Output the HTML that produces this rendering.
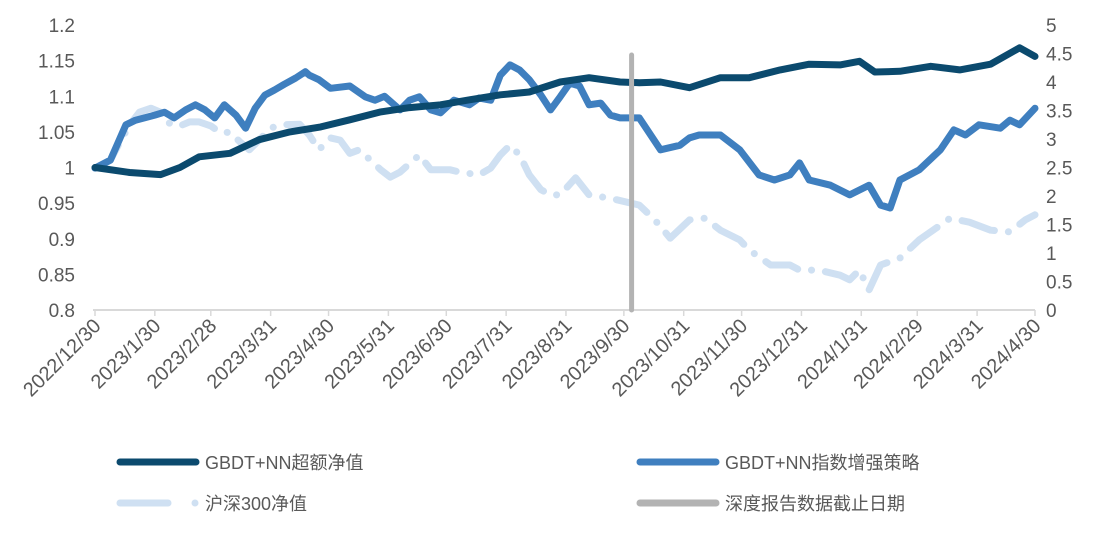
<!DOCTYPE html>
<html><head><meta charset="utf-8"><style>
body{margin:0;background:#fff;width:1104px;height:528px;overflow:hidden}
svg text{font-family:"Liberation Sans","Noto Sans CJK SC",sans-serif;fill:#595959}
</style></head><body>
<svg id="chart" width="1104" height="528" xmlns="http://www.w3.org/2000/svg">
<g id="axes"></g>
<g id="series"></g>
<g id="legend">
<line x1="120" y1="462" x2="196" y2="462" stroke="#0b4a6e" stroke-width="7" stroke-linecap="round"/>
<text x="205" y="469" font-size="18">GBDT+NN超额净值</text>
<line x1="640" y1="462" x2="716" y2="462" stroke="#3f7fbf" stroke-width="7" stroke-linecap="round"/>
<text x="725" y="469" font-size="18">GBDT+NN指数增强策略</text>
<line x1="120" y1="503" x2="168" y2="503" stroke="#cfe0f2" stroke-width="7" stroke-linecap="round"/>
<circle cx="195" cy="503" r="3.5" fill="#cfe0f2"/>
<text x="205" y="510" font-size="18">沪深300净值</text>
<line x1="640" y1="503" x2="716" y2="503" stroke="#b3b3b3" stroke-width="7" stroke-linecap="round"/>
<text x="725" y="510" font-size="18">深度报告数据截止日期</text>
</g>
</svg>
<script>
const xTickLabels=["2022/12/30","2023/1/30","2023/2/28","2023/3/31","2023/4/30","2023/5/31","2023/6/30","2023/7/31","2023/8/31","2023/9/30","2023/10/31","2023/11/30","2023/12/31","2024/1/31","2024/2/29","2024/3/31","2024/4/30"];
const xTickDays=[0,31,60,91,121,152,182,213,244,274,305,335,366,397,426,457,487];
const leftTicks=[0.8,0.85,0.9,0.95,1,1.05,1.1,1.15,1.2];
const rightTicks=[0,0.5,1,1.5,2,2.5,3,3.5,4,4.5,5];
const cutoffDay=278;
const excessDays=[0,18,34,44,54,70,85,101,117,132,148,163,179,194,210,225,241,256,272,282,293,308,324,339,355,370,386,396,404,417,433,448,464,479,487];
const excessVals=[1.0,0.993,0.99,1.0,1.015,1.02,1.039,1.05,1.057,1.067,1.078,1.084,1.088,1.095,1.102,1.106,1.12,1.126,1.12,1.119,1.12,1.112,1.126,1.126,1.137,1.145,1.144,1.149,1.134,1.135,1.142,1.137,1.145,1.168,1.156];
const enhDays=[0,8,16,21,31,36,41,47,52,57,62,67,73,78,83,88,93,98,104,109,111,116,122,132,140,145,150,158,163,168,174,179,186,194,199,205,210,215,220,225,231,236,241,246,251,256,262,267,272,282,293,303,308,313,324,334,344,352,360,365,370,381,391,401,407,412,417,427,438,445,451,458,469,474,479,487];
const enhVals=[2.49,2.63,3.25,3.33,3.42,3.47,3.37,3.51,3.6,3.51,3.37,3.6,3.42,3.19,3.54,3.77,3.86,3.96,4.07,4.18,4.12,4.04,3.89,3.93,3.74,3.68,3.75,3.51,3.68,3.74,3.51,3.46,3.68,3.6,3.72,3.68,4.12,4.3,4.21,4.04,3.77,3.51,3.74,3.98,3.93,3.6,3.63,3.42,3.37,3.37,2.81,2.89,3.02,3.07,3.07,2.81,2.37,2.28,2.37,2.58,2.28,2.19,2.02,2.19,1.84,1.79,2.28,2.46,2.81,3.16,3.07,3.25,3.19,3.33,3.25,3.54];
const hsDays=[0,8,13,18,23,29,34,39,44,49,54,60,65,70,75,80,85,91,96,106,111,116,122,127,132,137,148,153,158,168,174,184,189,199,205,210,215,220,225,231,236,241,249,256,267,282,290,298,308,316,324,334,339,350,360,365,375,386,391,396,401,407,417,427,438,443,453,464,474,482,487];
const hsVals=[2.49,2.63,2.95,3.25,3.47,3.54,3.47,3.26,3.23,3.3,3.3,3.23,3.11,3.12,2.95,2.81,2.98,3.19,3.25,3.26,3.07,2.81,3.02,2.98,2.75,2.81,2.46,2.33,2.42,2.72,2.46,2.46,2.42,2.37,2.49,2.72,2.89,2.72,2.37,2.11,2.02,2.02,2.32,2.02,1.96,1.84,1.58,1.26,1.58,1.61,1.4,1.23,1.05,0.79,0.79,0.7,0.7,0.61,0.53,0.7,0.35,0.79,0.91,1.23,1.49,1.61,1.54,1.4,1.37,1.58,1.67];

const NS="http://www.w3.org/2000/svg";
const X0=95,X1=1035,YT=25,YB=310;
function xs(d){return X0+d/487*(X1-X0);}
function yl(v){return YB-(v-0.8)/0.4*(YB-YT);}
function yr(v){return YB-v/5*(YB-YT);}
function mk(tag,attrs,parent){const e=document.createElementNS(NS,tag);for(const k in attrs)e.setAttribute(k,attrs[k]);parent.appendChild(e);return e;}
const axes=document.getElementById('axes'),ser=document.getElementById('series');
const ax=mk('line',{x1:93,y1:YB,x2:X1,y2:YB,stroke:'#d9d9d9','stroke-width':2},axes);


xTickDays.forEach((d,i)=>{
  const x=xs(d);
  const t=mk('line',{x1:x,y1:YB,x2:x,y2:YB+6,stroke:'#d9d9d9','stroke-width':1.5},axes);
  
  
  const tx=mk('text',{x:x+7,y:YB+17,'font-size':20,'text-anchor':'end',transform:`rotate(-45 ${x+7} ${YB+17})`},axes);
  tx.textContent=xTickLabels[i];
  
  
});
leftTicks.forEach(v=>{
  const t=mk('text',{x:75,y:yl(v)+7,'font-size':19,'text-anchor':'end'},axes);
  t.textContent=String(v);
  
  
});
rightTicks.forEach(v=>{
  const t=mk('text',{x:1046,y:yr(v)+7,'font-size':19,'text-anchor':'start'},axes);
  t.textContent=String(v);
  
  
});
function pathD(days,vals,yf){return days.map((d,i)=>(i?'L':'M')+xs(d).toFixed(1)+' '+yf(vals[i]).toFixed(1)).join(' ');}
const hs=mk('path',{d:pathD(hsDays,hsVals,yr),fill:'none',stroke:'#cfe0f2','stroke-width':7,'stroke-linecap':'round','stroke-linejoin':'round','stroke-dasharray':'34 14 0.1 14'},ser);


const enh=mk('path',{d:pathD(enhDays,enhVals,yr),fill:'none',stroke:'#3f7fbf','stroke-width':7,'stroke-linejoin':'round','stroke-linecap':'round'},ser);


const ex=mk('path',{d:pathD(excessDays,excessVals,yl),fill:'none',stroke:'#0b4a6e','stroke-width':7,'stroke-linejoin':'round','stroke-linecap':'round'},ser);


const cx=xs(cutoffDay);
const cut=mk('line',{x1:cx,y1:55,x2:cx,y2:YB,stroke:'#b3b3b3','stroke-width':5,'stroke-linecap':'round'},ser);


</script>
</body></html>
